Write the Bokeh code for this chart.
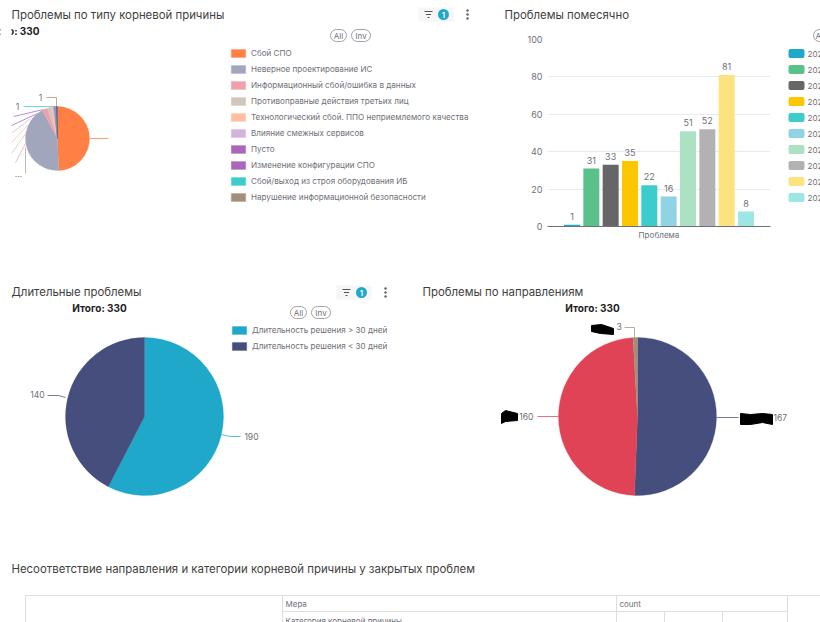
from bokeh.plotting import figure
from bokeh.layouts import column, row
from bokeh.models import Range1d, FactorRange, Legend, LegendItem, ColumnDataSource
from bokeh.core.properties import value
from bokeh.transform import dodge
from bokeh.embed import file_html
from bokeh.resources import INLINE
import math

# ---------- data ----------
cause_names = ["Сбой СПО", "Неверное проектирование ИС", "Информационный сбой/ошибка в данных",
               "Противоправные действия третьих лиц", "Технологический сбой. ППО неприемлемого качества",
               "Влияние смежных сервисов", "Пусто", "Изменение конфигурации СПО",
               "Сбой/выход из строя оборудования ИБ", "Нарушение информационной безопасности"]
cause_values = [163, 141, 9, 6, 3, 2, 1, 1, 1, 1]
cause_rest = 2
cause_colors = ["#FF7F44", "#A1A6BD", "#EFA1AA", "#D1C6BC", "#FEC0A1", "#D3B3DA",
                "#A868B7", "#A868B7", "#3CCCCB", "#A38F79"]
rest_color = "#454E7C"

month_names = ["202"] * 10
month_values = [1, 31, 33, 35, 22, 16, 51, 52, 81, 8]
month_colors = ["#1FA8C9", "#5AC189", "#666666", "#FCC700", "#3CCCCB",
                "#8FD3E4", "#ACE1C4", "#B2B2B2", "#FDE380", "#9EE5E5"]
y_ticks = [0, 20, 40, 60, 80, 100]

long_names = ["Длительность решения > 30 дней", "Длительность решения < 30 дней"]
long_values = [190, 140]
long_colors = ["#1FA8C9", "#454E7C"]

dir_values = [167, 160, 3]
dir_colors = ["#454E7C", "#E04355", "#A38F79"]
total_label = "Итого: 330"

TITLE = "#3f3f3f"; GREY = "#6E7079"; FONT = "Inter"


def panel(x0, y0, w, h):
    p = figure(width=w, height=h, x_range=Range1d(x0, x0 + w), y_range=Range1d(y0 + h, y0),
               output_backend="svg", toolbar_location=None, min_border=0, frame_align=False)
    p.axis.visible = False
    p.grid.visible = False
    p.outline_line_color = None
    return p


def txt(p, x, y, s, size=9, color=GREY, align="left", style="normal", font=FONT):
    p.text(x=[x], y=[y], text=[s], text_font=value(font), text_font_size=f"{size}px",
           text_color=color, text_align=align, text_baseline="middle", text_font_style=style)


def pie(p, cx, cy, r, vals, cols):
    total = sum(vals)
    a = 0.0
    rs = []
    for v, c in zip(vals, cols):
        b = a + v / total * 2 * math.pi
        rs.append(p.wedge(x=[cx], y=[cy], radius=r, radius_units="screen",
                          start_angle=math.pi / 2 - a, end_angle=math.pi / 2 - b, direction="clock",
                          fill_color=c, line_color=c, line_width=0.3))
        a = b
    return rs


def leader(p, xs, ys, color):
    p.line(x=xs, y=ys, line_color=color, line_width=1, line_alpha=0.75)


def legend(p, names, rends, x, ytop, h):
    leg = Legend(items=[LegendItem(label=value(n), renderers=[r]) for n, r in zip(names, rends)],
                 location=(x, h - ytop - 16 * len(names)), orientation="vertical",
                 glyph_width=18, glyph_height=10, label_height=11, spacing=5, label_standoff=4,
                 padding=0, margin=0, border_line_color=None, background_fill_alpha=0,
                 label_text_font=FONT, label_text_font_size="8.1px", label_text_color=GREY)
    p.add_layout(leg, "center")


def pills(p, x, y):
    for s, a, b in (("All", x, x + 16), ("Inv", x + 21, x + 40)):
        p.quad(left=[a], right=[b], top=[y - 6], bottom=[y + 6], border_radius=6,
               fill_color="white", line_color="#8a8a8a", line_width=0.8)
        txt(p, (a + b) / 2, y, s, size=8, align="center")


def filter_badge(p, x, y):
    p.quad(left=[x - 7], right=[x + 28], top=[y - 7], bottom=[y + 7], fill_color="#f6f6f6", line_color=None)
    for d, ln in ((-3, 4), (0, 2.6), (3, 1)):
        p.segment(x0=[x + 3 - ln], y0=[y + d], x1=[x + 3 + ln], y1=[y + d], line_color="#555555", line_width=1)
    p.scatter(x=[x + 18], y=[y], size=11, fill_color="#1FA8C9", line_color=None)
    txt(p, x + 18, y, "1", size=7, color="white", align="center", style="bold")
    p.scatter(x=[x + 42] * 3, y=[y - 4, y, y + 4], size=2.5, fill_color="#666666", line_color=None)


# ---------- top left ----------
H1, H2, H3 = 280, 270, 72
a = panel(0, 0, 490, H1)
for xs, ys, c in (([89, 108], [138, 138], cause_colors[0]),
                  ([25, 25], [147, 173], cause_colors[1]),
                  ([15, 25], [162, 143], cause_colors[2]),
                  ([11, 26], [153, 132], cause_colors[3]),
                  ([11, 27], [142, 125], cause_colors[4]),
                  ([12, 30], [132, 118], cause_colors[5]),
                  ([11, 37], [125, 113], cause_colors[6]),
                  ([13, 43], [116, 109], cause_colors[7]),
                  ([23, 55], [106, 106], cause_colors[8]),
                  ([46, 56, 56], [97, 97, 107], cause_colors[9])):
    leader(a, xs, ys, c)
ra = pie(a, 57, 138, 32, cause_values + [cause_rest], cause_colors + [rest_color])
txt(a, 11, 14, "Проблемы по типу корневой причины", size=11.4, color=TITLE)
txt(a, 39, 30, total_label, size=10, color="#222222", align="right", style="bold")
a.quad(left=[0], right=[11], top=[22], bottom=[38], fill_color="white", line_color=None)
txt(a, 40, 97, "1", size=8.6, align="center")
txt(a, 17, 106, "1", size=8.6, align="center")
txt(a, 18, 173, "...", size=8.6, align="center")
pills(a, 330, 35)
filter_badge(a, 425, 14)
legend(a, cause_names, ra, 229, 42, H1)

# ---------- top right: title strip and bars ----------
t = panel(490, 0, 297, 30)
txt(t, 504, 14, "Проблемы помесячно", size=11.4, color=TITLE)

b = figure(width=297, height=H1 - 30, x_range=FactorRange("Проблема"), y_range=Range1d(0, 100),
           output_backend="svg", toolbar_location=None, frame_align=False,
           min_border_left=57, min_border_right=17, min_border_top=9, min_border_bottom=54)
b.outline_line_color = None
b.xgrid.visible = False
b.ygrid.grid_line_color = "#E6EAF2"
b.yaxis.ticker = y_ticks
b.yaxis.axis_line_color = None
b.yaxis.major_tick_line_color = None
b.yaxis.major_tick_out = 0
b.yaxis.minor_tick_line_color = None
b.yaxis.major_label_text_font = FONT
b.yaxis.major_label_text_font_size = "9px"
b.yaxis.major_label_text_color = GREY
b.xaxis.axis_line_color = GREY
b.xaxis.major_tick_line_color = None
b.xaxis.major_tick_out = 0
b.xaxis.major_label_text_font = FONT
b.xaxis.major_label_text_font_size = "8.1px"
b.xaxis.major_label_text_color = GREY
b.xaxis.major_label_standoff = 3
step, bw = 0.0867, 0.0717
for i, (v, col) in enumerate(zip(month_values, month_colors)):
    off = (i - (len(month_values) - 1) / 2) * step
    src = ColumnDataSource(dict(x=["Проблема"], top=[v], lab=[str(v)]))
    b.vbar(x=dodge("x", off, range=b.x_range), top="top", width=bw, source=src, fill_color=col, line_color=None)
    b.text(x=dodge("x", off, range=b.x_range), y="top", text="lab", source=src, y_offset=-5, text_align="center",
           text_baseline="bottom", text_font=value(FONT), text_font_size="9px", text_color=GREY)

# legend strip at the right edge of the window, cut off there as in the reference
m = panel(787, 0, 33, H1)
m.quad(left=[813], right=[830], top=[29], bottom=[41], border_radius=6, fill_color="white",
       line_color="#8a8a8a", line_width=0.8)
txt(m, 815, 35, "All", size=8)
for i, (n, col) in enumerate(zip(month_names, month_colors)):
    y = 53 + 16 * i
    m.quad(left=[788], right=[804], top=[y - 4.5], bottom=[y + 4.5], border_radius=2, fill_color=col, line_color=None)
    txt(m, 807, y, n, size=8.1)

# ---------- bottom left ----------
c = panel(0, 280, 410, H2)
leader(c, [47, 58, 65], [395, 395, 397], long_colors[1])
leader(c, [221, 230, 240], [434, 436, 436], long_colors[0])
rc = pie(c, 144, 416, 79, long_values, long_colors)
txt(c, 11, 291, "Длительные проблемы", size=11.4, color=TITLE)
txt(c, 99, 307, total_label, size=10, color="#222222", align="center", style="bold")
txt(c, 37, 394, str(long_values[1]), size=8.6, align="center")
txt(c, 251, 436, str(long_values[0]), size=8.6, align="center")
pills(c, 290, 312)
filter_badge(c, 343, 292)
legend(c, long_names, rc, 230, 39, H2)

# ---------- bottom right ----------
d = panel(410, 280, 410, H2)
leader(d, [716, 738], [417, 417], dir_colors[0])
leader(d, [537, 558], [416, 416], dir_colors[1])
leader(d, [624, 634, 634], [327, 327, 338], dir_colors[2])
pie(d, 637, 416, 79, dir_values, dir_colors)
txt(d, 422, 291, "Проблемы по направлениям", size=11.4, color=TITLE)
txt(d, 592, 307, total_label, size=10, color="#222222", align="center", style="bold")
txt(d, 773, 417, str(dir_values[0]), size=8.6)
txt(d, 533, 416, str(dir_values[1]), size=8.6, align="right")
txt(d, 616, 326, str(dir_values[2]), size=8.6)
d.patch(x=[740, 750, 762, 772, 772, 762, 750, 740], y=[413, 414, 413, 414, 424, 422, 424, 424], color="black")
d.patch(x=[501, 505, 517, 517, 505, 501], y=[413, 410, 413, 420, 421, 423], color="black")
d.patch(x=[591, 601, 613, 613, 600, 591], y=[325, 324, 328, 334, 333, 331], color="black")

# ---------- table ----------
e = panel(0, 550, 820, H3)
txt(e, 11, 568, "Несоответствие направления и категории корневой причины у закрытых проблем",
    size=11.4, color=TITLE)
LINE = "#DDDDDD"
e.segment(x0=[25, 282, 282], y0=[595, 611, 595], x1=[820, 787, 787], y1=[595, 611, 595], line_color=LINE)
e.segment(x0=[25, 282, 616, 787, 664, 722], y0=[595, 595, 595, 595, 611, 611],
          x1=[25, 282, 616, 787, 664, 722], y1=[622, 622, 622, 622, 622, 622], line_color=LINE)
txt(e, 285, 603, "Мера", size=8)
txt(e, 619, 603, "count", size=8)
txt(e, 285, 620, "Категория корневой причины", size=8)

page = column(row(a, column(t, b, spacing=0), m, spacing=0), row(c, d, spacing=0), e, spacing=0)
open("out.html", "w").write(file_html(page, INLINE))
